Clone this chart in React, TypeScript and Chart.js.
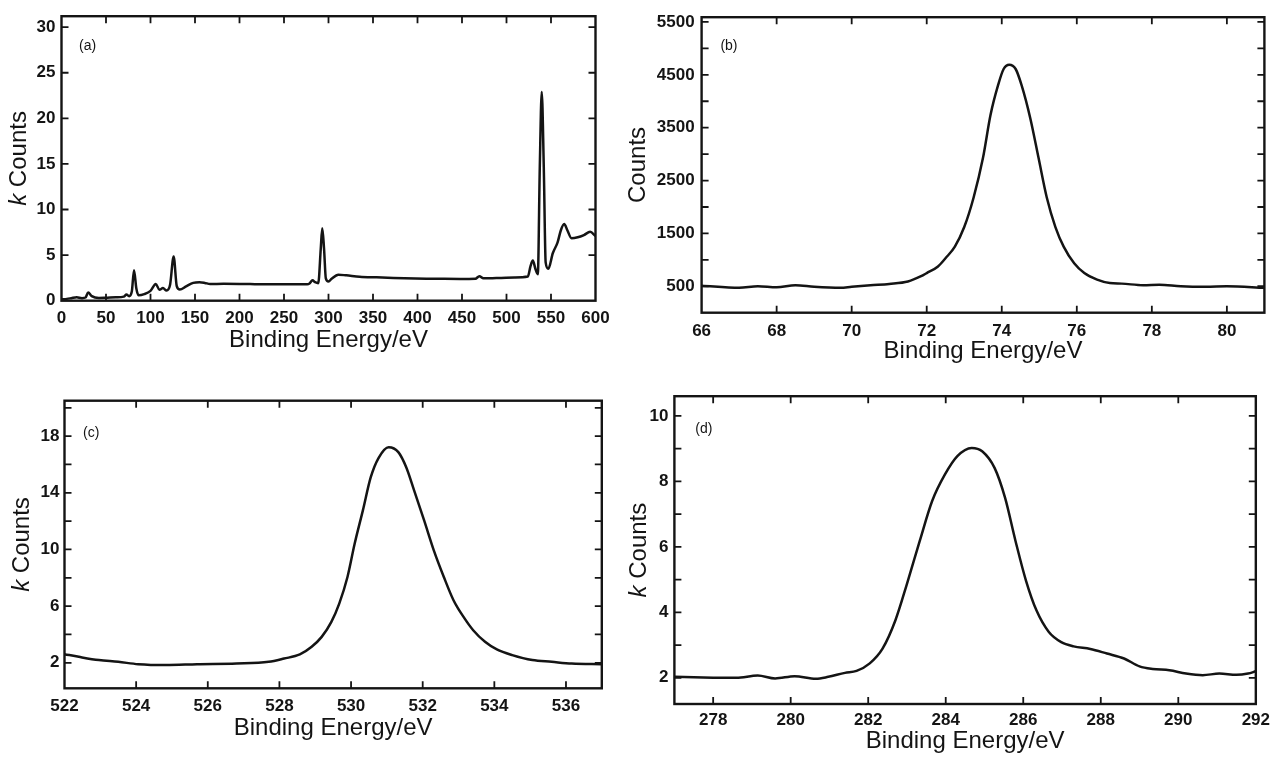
import React, { useEffect, useRef } from 'react';
import { Chart, registerables } from 'chart.js';

Chart.register(...registerables);

const FONT = '"Liberation Sans", Arial, Helvetica, sans-serif';
const INK = '#141414';

// ---------- Panel (a): survey spectrum ----------
const energyA = [0, 6, 11, 17, 23, 27, 30, 34, 42, 49, 61, 70, 73, 76, 79, 81.5, 84, 86.5, 93, 100, 106, 110, 114, 118, 122, 126, 129.5, 133, 140, 148, 155, 161, 167, 182, 212, 246, 276, 279, 282, 285, 288.5, 291.3, 293, 295, 297, 300, 303.5, 311, 320, 335, 354, 373, 410, 425, 448, 465, 469.5, 474, 494, 509, 524, 527, 529.6, 532.6, 535.2, 537.4, 539.6, 541.9, 544, 547, 552, 557.4, 561, 564.8, 568.5, 573, 580, 587, 594, 600];
const countsA = [0.15, 0.2, 0.28, 0.38, 0.28, 0.35, 0.9, 0.5, 0.3, 0.32, 0.38, 0.45, 0.68, 0.5, 1.0, 3.35, 1.4, 0.6, 0.72, 1.08, 1.83, 1.2, 1.38, 1.12, 1.75, 4.85, 1.6, 1.22, 1.57, 1.95, 2.02, 1.95, 1.83, 1.85, 1.82, 1.8, 1.8, 1.92, 2.25, 2.03, 1.92, 5.7, 7.95, 5.7, 2.45, 2.1, 2.4, 2.85, 2.78, 2.63, 2.56, 2.5, 2.42, 2.4, 2.38, 2.4, 2.69, 2.45, 2.5, 2.55, 2.65, 3.8, 4.4, 3.45, 2.9, 14.6, 22.9, 14.6, 4.2, 3.5, 5.2, 6.4, 7.7, 8.4, 7.7, 6.85, 6.95, 7.2, 7.55, 7.1];
const xTicksA = [0, 50, 100, 150, 200, 250, 300, 350, 400, 450, 500, 550, 600];
const yTicksA = [0, 5, 10, 15, 20, 25, 30];
const yLabelsA = [0, 5, 10, 15, 20, 25, 30];

// ---------- Panel (b) ----------
const energyB = [66, 67, 67.5, 68, 68.5, 69, 69.7, 70, 70.5, 71, 71.5, 71.85, 72, 72.3, 72.5, 72.75, 73, 73.25, 73.5, 73.7, 73.9, 74.05, 74.2, 74.37, 74.53, 74.76, 74.98, 75.2, 75.43, 75.65, 75.93, 76.2, 76.54, 76.88, 77.2, 77.77, 78.2, 78.77, 79.44, 80, 81];
const countsB = [512, 470, 500, 480, 520, 490, 470, 490, 520, 545, 590, 690, 750, 875, 1030, 1250, 1620, 2180, 2930, 3740, 4300, 4610, 4690, 4610, 4300, 3680, 2930, 2180, 1620, 1250, 935, 750, 625, 560, 550, 520, 530, 500, 490, 500, 470];
const xTicksB = [66, 68, 70, 72, 74, 76, 78, 80];
const yTicksB = [500, 1000, 1500, 2000, 2500, 3000, 3500, 4000, 4500, 5000, 5500];
const yLabelsB = [500, 1500, 2500, 3500, 4500, 5500];

// ---------- Panel (c) ----------
const energyC = [522, 522.4, 522.96, 523.5, 524.06, 524.83, 525.7, 526.8, 527.7, 528.13, 528.57, 528.9, 529.18, 529.45, 529.67, 529.9, 530.1, 530.33, 530.55, 530.77, 531.05, 531.32, 531.54, 531.76, 532.04, 532.31, 532.59, 532.86, 533.14, 533.41, 533.74, 534.07, 534.5, 535.06, 535.6, 536.16, 537];
const countsC = [2.61, 2.42, 2.19, 2.07, 1.9, 1.84, 1.9, 1.95, 2.07, 2.3, 2.59, 3.13, 3.83, 4.89, 6.18, 8.06, 10.4, 12.76, 15.1, 16.47, 17.22, 16.87, 15.8, 14.17, 12.05, 9.94, 8.06, 6.42, 5.24, 4.3, 3.48, 2.94, 2.54, 2.19, 2.07, 1.95, 1.9];
const xTicksC = [522, 524, 526, 528, 530, 532, 534, 536];
const yTicksC = [2, 4, 6, 8, 10, 12, 14, 16, 18, 20];
const yLabelsC = [2, 6, 10, 14, 18];

// ---------- Panel (d) ----------
const energyD = [277, 277.75, 278.6, 279.15, 279.6, 280.1, 280.65, 280.97, 281.4, 281.7, 282.04, 282.37, 282.7, 283.0, 283.33, 283.65, 283.98, 284.3, 284.67, 284.94, 285.26, 285.53, 285.8, 286.07, 286.34, 286.66, 286.98, 287.3, 287.73, 288.16, 288.6, 289.0, 289.34, 289.77, 290.2, 290.63, 291.06, 291.5, 291.8, 292];
const countsD = [2.03, 2.01, 2.0, 2.07, 1.98, 2.05, 1.97, 2.03, 2.15, 2.21, 2.44, 2.89, 3.75, 4.87, 6.18, 7.4, 8.21, 8.77, 9.02, 8.92, 8.41, 7.5, 6.18, 4.97, 4.06, 3.4, 3.09, 2.96, 2.88, 2.74, 2.59, 2.35, 2.27, 2.23, 2.13, 2.08, 2.13, 2.09, 2.13, 2.2];
const xTicksD = [278, 280, 282, 284, 286, 288, 290, 292];
const yTicksD = [2, 3, 4, 5, 6, 7, 8, 9, 10];
const yLabelsD = [2, 4, 6, 8, 10];

const xTitle = 'Binding Energy/eV';

type Panel = {
  key: string;
  letter: string;
  x: number[];
  y: number[];
  xMin: number; xMax: number; yMin: number; yMax: number;
  xTicks: number[]; xLabels: number[];
  yTicks: number[]; yLabels: number[];
  yItalic: string; yRest: string;
  box: { left: number; top: number; width: number; height: number };
  lay: {
    padTop: number; padRight: number; yAxisW: number; xAxisH: number;
    xTitlePad: number; xTickPad: number; yTickPad: number; yTitleX: number;
    letterDx: number; letterDy: number;
  };
};

const panels: Panel[] = [
  {
    key: 'a', letter: '(a)', x: energyA, y: countsA,
    xMin: 0, xMax: 600, yMin: 0, yMax: 31.2,
    xTicks: xTicksA, xLabels: xTicksA, yTicks: yTicksA, yLabels: yLabelsA,
    yItalic: 'k', yRest: ' Counts',
    box: { left: 0, top: 0, width: 620, height: 375 },
    lay: { padTop: 14, padRight: 24.5, yAxisW: 61.5, xAxisH: 74.3, xTitlePad: 20, xTickPad: 7.2, yTickPad: 6, yTitleX: 19, letterDx: 17.5, letterDy: 30 },
  },
  {
    key: 'b', letter: '(b)', x: energyB, y: countsB,
    xMin: 66, xMax: 81, yMin: 0, yMax: 5590,
    xTicks: xTicksB, xLabels: xTicksB, yTicks: yTicksB, yLabels: yLabelsB,
    yItalic: '', yRest: 'Counts',
    box: { left: 620, top: 0, width: 656, height: 375 },
    lay: { padTop: 14, padRight: 11.6, yAxisW: 81.6, xAxisH: 62.3, xTitlePad: 9.6, xTickPad: 8.7, yTickPad: 7, yTitleX: 18, letterDx: 18.8, letterDy: 28.5 },
  },
  {
    key: 'c', letter: '(c)', x: energyC, y: countsC,
    xMin: 522, xMax: 537, yMin: 0.2, yMax: 20.5,
    xTicks: xTicksC, xLabels: xTicksC, yTicks: yTicksC, yLabels: yLabelsC,
    yItalic: 'k', yRest: ' Counts',
    box: { left: 0, top: 380, width: 620, height: 381 },
    lay: { padTop: 20.7, padRight: 18.2, yAxisW: 64.5, xAxisH: 72.7, xTitlePad: 18.6, xTickPad: 8.1, yTickPad: 5, yTitleX: 22, letterDx: 18.5, letterDy: 32 },
  },
  {
    key: 'd', letter: '(d)', x: energyD, y: countsD,
    xMin: 277, xMax: 292, yMin: 1.2, yMax: 10.6,
    xTicks: xTicksD, xLabels: xTicksD, yTicks: yTicksD, yLabels: yLabelsD,
    yItalic: 'k', yRest: ' Counts',
    box: { left: 620, top: 380, width: 656, height: 381 },
    lay: { padTop: 15, padRight: 17.1, yAxisW: 54.4, xAxisH: 57, xTitlePad: 5.6, xTickPad: 6, yTickPad: 6, yTitleX: 19, letterDx: 20.9, letterDy: 32.5 },
  },
];

const framePlugin = {
  id: 'frame',
  afterDatasetsDraw(chart: any, _args: any, opts: any) {
    const { ctx, chartArea: a, scales } = chart;
    ctx.save();
    ctx.strokeStyle = INK;
    ctx.lineWidth = 2.4;
    ctx.strokeRect(a.left, a.top, a.right - a.left, a.bottom - a.top);
    const L = 7;
    ctx.lineWidth = 1.8;
    ctx.beginPath();
    for (const t of scales.x.ticks) {
      const px = scales.x.getPixelForValue(t.value);
      if (px <= a.left + 1.5 || px >= a.right - 1.5) continue;
      ctx.moveTo(px, a.bottom); ctx.lineTo(px, a.bottom - L);
      ctx.moveTo(px, a.top); ctx.lineTo(px, a.top + L);
    }
    for (const t of scales.y.ticks) {
      const py = scales.y.getPixelForValue(t.value);
      if (py <= a.top + 1.5 || py >= a.bottom - 1.5) continue;
      ctx.moveTo(a.left, py); ctx.lineTo(a.left + L, py);
      ctx.moveTo(a.right, py); ctx.lineTo(a.right - L, py);
    }
    ctx.stroke();

    // panel letter
    ctx.fillStyle = INK;
    ctx.font = `14px ${FONT}`;
    ctx.textBaseline = 'middle';
    ctx.textAlign = 'left';
    ctx.fillText(opts.letter, a.left + opts.letterDx, a.top + opts.letterDy);

    // y title with italic k
    const cy = (a.top + a.bottom) / 2;
    ctx.translate(opts.yTitleX, cy);
    ctx.rotate(-Math.PI / 2);
    const fItal = `italic 24px ${FONT}`;
    const fNorm = `24px ${FONT}`;
    ctx.font = fItal;
    const w1 = opts.yItalic ? ctx.measureText(opts.yItalic).width : 0;
    ctx.font = fNorm;
    const w2 = ctx.measureText(opts.yRest).width;
    let sx = -(w1 + w2) / 2;
    if (opts.yItalic) {
      ctx.font = fItal;
      ctx.fillText(opts.yItalic, sx, 0);
      sx += w1;
    }
    ctx.font = fNorm;
    ctx.fillText(opts.yRest, sx, 0);
    ctx.restore();
  },
};

function PanelChart({ p }: { p: Panel }) {
  const ref = useRef<HTMLCanvasElement | null>(null);
  useEffect(() => {
    if (!ref.current) return;
    const L = p.lay;
    const tickFont = { family: FONT, size: 17, weight: 'bold' as const };
    const chart = new Chart(ref.current, {
      type: 'line',
      data: {
        datasets: [
          {
            data: p.x.map((v, i) => ({ x: v, y: p.y[i] })),
            borderColor: INK,
            borderWidth: 2.5,
            pointRadius: 0,
            cubicInterpolationMode: 'monotone',
            fill: false,
          },
        ],
      },
      options: {
        animation: false,
        responsive: false,
        maintainAspectRatio: false,
        events: [],
        layout: { padding: { left: 0, top: L.padTop, right: L.padRight, bottom: 0 } },
        plugins: {
          legend: { display: false },
          tooltip: { enabled: false },
          frame: {
            letter: p.letter,
            letterDx: L.letterDx,
            letterDy: L.letterDy,
            yTitleX: L.yTitleX,
            yItalic: p.yItalic,
            yRest: p.yRest,
          },
        } as any,
        scales: {
          x: {
            type: 'linear',
            min: p.xMin,
            max: p.xMax,
            grid: { display: false, drawTicks: false },
            border: { display: false },
            afterBuildTicks: (s: any) => { s.ticks = p.xTicks.map((v) => ({ value: v })); },
            afterFit: (s: any) => { s.height = L.xAxisH; },
            ticks: {
              autoSkip: false,
              maxRotation: 0,
              minRotation: 0,
              padding: L.xTickPad,
              font: tickFont,
              color: INK,
              callback: (v: any) => (p.xLabels.includes(Number(v)) ? String(v) : ''),
            },
            title: {
              display: true,
              text: xTitle,
              color: INK,
              font: { family: FONT, size: 24 },
              padding: { top: 0, bottom: L.xTitlePad },
            },
          },
          y: {
            type: 'linear',
            min: p.yMin,
            max: p.yMax,
            grid: { display: false, drawTicks: false },
            border: { display: false },
            afterBuildTicks: (s: any) => { s.ticks = p.yTicks.map((v) => ({ value: v })); },
            afterFit: (s: any) => { s.width = L.yAxisW; },
            ticks: {
              autoSkip: false,
              padding: L.yTickPad,
              font: tickFont,
              color: INK,
              callback: (v: any) => (p.yLabels.includes(Number(v)) ? String(v) : ''),
            },
          },
        },
      } as any,
      plugins: [framePlugin as any],
    });
    return () => chart.destroy();
  }, [p]);
  return (
    <canvas
      ref={ref}
      width={p.box.width}
      height={p.box.height}
      style={{
        position: 'absolute',
        left: p.box.left,
        top: p.box.top,
        width: p.box.width,
        height: p.box.height,
      }}
    />
  );
}

export default function App() {
  return (
    <div
      style={{
        position: 'absolute',
        left: 0,
        top: 0,
        width: 1276,
        height: 761,
        background: '#ffffff',
        overflow: 'hidden',
      }}
    >
      {panels.map((p) => (
        <PanelChart key={p.key} p={p} />
      ))}
    </div>
  );
}
